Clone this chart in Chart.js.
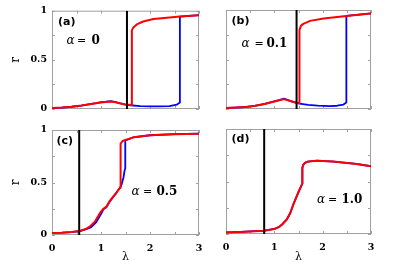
<!DOCTYPE html>
<html>
<head>
<meta charset="utf-8">
<script src="https://cdn.jsdelivr.net/npm/chart.js@4.4.0/dist/chart.umd.min.js"></script>
<style>
html, body { margin: 0; padding: 0; background: #fff; }
#wrap { position: relative; width: 399px; height: 271px; }
#wrap canvas { position: absolute; left: 0; top: 0; }
</style>
</head>
<body>
<div id="wrap">
  <canvas id="pa" width="399" height="271"></canvas>
  <canvas id="pb" width="399" height="271"></canvas>
  <canvas id="pc" width="399" height="271"></canvas>
  <canvas id="pd" width="399" height="271"></canvas>
</div>
<script>
// tick values
const xTickVals = [0, 1, 2, 3];
const yTickVals = [0, 0.5, 1];
const xMinor = [0, 0.5, 1, 1.5, 2, 2.5, 3];
const yMinor = [0, 0.25, 0.5, 0.75, 1];

// (a) alpha = 0 : red = forward, blue = backward
const lamA_fwd = [0, 0.2, 0.4, 0.6, 0.8, 1.0, 1.1, 1.2, 1.3, 1.4, 1.5, 1.63, 1.63, 1.66, 1.73, 1.86, 2.07, 2.4, 2.61, 3.0];
const rA_fwd   = [0.01, 0.015, 0.023, 0.035, 0.05, 0.066, 0.072, 0.077, 0.068, 0.055, 0.045, 0.04, 0.8, 0.83, 0.86, 0.89, 0.915, 0.93, 0.94, 0.955];
const lamA_bwd = [0, 0.2, 0.4, 0.6, 0.8, 0.9, 1.0, 1.1, 1.2, 1.3, 1.4, 1.5, 1.6, 1.8, 2.0, 2.2, 2.4, 2.55, 2.61, 2.61, 3.0];
const rA_bwd   = [0.01, 0.015, 0.023, 0.035, 0.052, 0.06, 0.07, 0.074, 0.08, 0.07, 0.056, 0.045, 0.038, 0.03, 0.026, 0.026, 0.03, 0.045, 0.065, 0.94, 0.955];
const critA = 1.53;

// (b) alpha = 0.1
const lamB_fwd = [0, 0.2, 0.4, 0.6, 0.8, 1.0, 1.1, 1.2, 1.3, 1.4, 1.52, 1.52, 1.55, 1.6, 1.74, 2.02, 2.49, 3.0];
const rB_fwd   = [0.01, 0.014, 0.02, 0.032, 0.05, 0.075, 0.088, 0.1, 0.085, 0.07, 0.058, 0.8, 0.84, 0.86, 0.89, 0.915, 0.94, 0.965];
const lamB_bwd = [0, 0.2, 0.4, 0.6, 0.8, 1.0, 1.1, 1.2, 1.3, 1.4, 1.52, 1.7, 1.9, 2.15, 2.3, 2.43, 2.49, 2.49, 3.0];
const rB_bwd   = [0.01, 0.014, 0.02, 0.032, 0.052, 0.078, 0.09, 0.105, 0.088, 0.07, 0.055, 0.042, 0.035, 0.03, 0.033, 0.045, 0.065, 0.94, 0.965];
const critB = 1.46;

// (c) alpha = 0.5
const lamC_fwd = [0, 0.2, 0.4, 0.57, 0.7, 0.77, 0.88, 0.98, 1.05, 1.11, 1.18, 1.31, 1.38, 1.4, 1.4, 1.44, 1.5, 1.66, 2.0, 2.5, 3.0];
const rC_fwd   = [0.02, 0.022, 0.028, 0.038, 0.06, 0.08, 0.13, 0.21, 0.25, 0.27, 0.325, 0.4, 0.445, 0.45, 0.87, 0.895, 0.905, 0.93, 0.95, 0.96, 0.965];
const lamC_bwd = [0, 0.2, 0.4, 0.57, 0.7, 0.8, 0.9, 1.0, 1.05, 1.11, 1.18, 1.31, 1.38, 1.42, 1.46, 1.48, 1.49, 1.49, 1.5, 1.66, 2.0, 2.5, 3.0];
const rC_bwd   = [0.02, 0.022, 0.028, 0.038, 0.055, 0.075, 0.12, 0.2, 0.245, 0.265, 0.32, 0.4, 0.445, 0.48, 0.55, 0.61, 0.63, 0.885, 0.9, 0.93, 0.95, 0.96, 0.965];
const critC = 0.555;

// (d) alpha = 1.0 (both branches coincide)
const lamD_fwd = [0, 0.3, 0.6, 0.79, 1.0, 1.1, 1.16, 1.26, 1.33, 1.4, 1.5, 1.56, 1.58, 1.58, 1.6, 1.64, 1.7, 1.88, 2.22, 2.7, 3.0];
const rD_fwd   = [0.015, 0.02, 0.027, 0.032, 0.048, 0.068, 0.09, 0.14, 0.2, 0.29, 0.4, 0.46, 0.48, 0.63, 0.66, 0.68, 0.69, 0.698, 0.69, 0.667, 0.645];
const lamD_bwd = lamD_fwd;
const rD_bwd   = rD_fwd;
const critD = 0.79;

const pts = (lam, r) => lam.map((x, i) => ({x: x, y: r[i]}));

// frame, inward ticks and the text labels inside each panel
const deco = {
    id: 'deco',
    beforeDatasetsDraw(chart) {
        const {ctx, chartArea: a, scales: {x, y}} = chart;
        ctx.save();
        ctx.strokeStyle = '#a0a0a0';
        ctx.lineWidth = 1;
        ctx.strokeRect(a.left + 0.5, a.top + 0.5, a.width - 1, a.height - 1);
        ctx.beginPath();
        xMinor.forEach(v => {
            const px = Math.round(x.getPixelForValue(v)) + 0.5;
            ctx.moveTo(px, a.bottom); ctx.lineTo(px, a.bottom - 3);
            ctx.moveTo(px, a.top); ctx.lineTo(px, a.top + 3);
        });
        yMinor.forEach(v => {
            const py = Math.round(y.getPixelForValue(v)) + 0.5;
            ctx.moveTo(a.left, py); ctx.lineTo(a.left + 3, py);
            ctx.moveTo(a.right, py); ctx.lineTo(a.right - 3, py);
        });
        ctx.stroke();
        ctx.restore();
    },
    afterDraw(chart, args, o) {
        const ctx = chart.ctx;
        ctx.save();
        ctx.fillStyle = '#000';
        ctx.textAlign = 'left';
        ctx.textBaseline = 'middle';
        ctx.font = 'bold 11px "DejaVu Sans"';
        ctx.fillText(o.tag, o.tagX, o.tagY);
        ctx.textBaseline = 'alphabetic';
        ctx.font = 'italic 12px "DejaVu Serif"';
        ctx.fillText('α', o.ax[0], o.ay);
        ctx.font = '11px "DejaVu Serif"';
        ctx.fillText('=', o.ax[1], o.ay);
        ctx.font = 'bold 12px "DejaVu Serif"';
        ctx.fillText(o.alpha, o.ax[2], o.ay);
        ctx.restore();
    }
};

const tickFont = {family: 'DejaVu Serif', size: 9.5, weight: 'bold'};

function makePanel(id, p) {
    return new Chart(document.getElementById(id), {
        type: 'line',
        data: {
            datasets: [
                {data: [{x: p.crit, y: 0}, {x: p.crit, y: 1}], borderColor: '#000000', borderWidth: 2},
                {data: pts(p.lamF, p.rF), borderColor: '#ff0000', borderWidth: 2},
                {data: pts(p.lamB, p.rB), borderColor: '#0000ff', borderWidth: 1.8}
            ]
        },
        options: {
            responsive: false,
            animation: false,
            layout: {padding: p.pad},
            elements: {
                point: {radius: 0},
                line: {tension: 0, borderJoinStyle: 'round', fill: false}
            },
            plugins: {
                legend: {display: false},
                tooltip: {enabled: false},
                deco: p.deco
            },
            scales: {
                x: {
                    type: 'linear', min: 0, max: 3,
                    grid: {display: false, drawTicks: false},
                    border: {display: false},
                    afterBuildTicks: s => { s.ticks = xTickVals.map(v => ({value: v})); },
                    afterFit: s => { s.height = p.xH; },
                    ticks: {display: p.xLabels, font: tickFont, color: '#000', padding: 8, maxRotation: 0, autoSkip: false,
                            callback: v => String(v)},
                    title: {display: p.xLabels, text: 'λ', color: '#000',
                            font: {family: 'DejaVu Serif', size: 11}, padding: {top: 0, bottom: 7}}
                },
                y: {
                    type: 'linear', min: 0, max: 1,
                    grid: {display: false, drawTicks: false},
                    border: {display: false},
                    afterBuildTicks: s => { s.ticks = yTickVals.map(v => ({value: v})); },
                    afterFit: s => { s.width = p.yW; },
                    ticks: {display: p.yLabels, font: tickFont, color: '#000', padding: 5, autoSkip: false,
                            callback: v => String(v)},
                    title: {display: p.yLabels, text: 'r', color: '#000',
                            font: {family: 'DejaVu Serif', size: 12}, padding: {top: 9, bottom: 0}}
                }
            }
        },
        plugins: [deco]
    });
}

makePanel('pa', {
    lamF: lamA_fwd, rF: rA_fwd, lamB: lamA_bwd, rB: rA_bwd, crit: critA,
    pad: {left: 0, top: 10, right: 200, bottom: 157}, yW: 52, xH: 5, xLabels: false, yLabels: true,
    deco: {tag: '(a)', tagX: 58, tagY: 22, alpha: '0', ax: [66.5, 77, 91.5], ay: 44}
});
makePanel('pb', {
    lamF: lamB_fwd, rF: rB_fwd, lamB: lamB_bwd, rB: rB_bwd, crit: critB,
    pad: {left: 221, top: 10, right: 28, bottom: 157}, yW: 5, xH: 5, xLabels: false, yLabels: false,
    deco: {tag: '(b)', tagX: 231.5, tagY: 21, alpha: '0.1', ax: [241.5, 254.5, 266.5], ay: 46.5}
});
makePanel('pc', {
    lamF: lamC_fwd, rF: rC_fwd, lamB: lamC_bwd, rB: rC_bwd, crit: critC,
    pad: {left: 0, top: 130, right: 200, bottom: 0}, yW: 52, xH: 36, xLabels: true, yLabels: true,
    deco: {tag: '(c)', tagX: 56.5, tagY: 141, alpha: '0.5', ax: [131.5, 143, 156.5], ay: 195}
});
makePanel('pd', {
    lamF: lamD_fwd, rF: rD_fwd, lamB: lamD_bwd, rB: rD_bwd, crit: critD,
    pad: {left: 221, top: 129, right: 28, bottom: 0}, yW: 5, xH: 37, xLabels: true, yLabels: false,
    deco: {tag: '(d)', tagX: 231.5, tagY: 139, alpha: '1.0', ax: [317, 328, 341.5], ay: 203}
});
</script>
</body>
</html>
